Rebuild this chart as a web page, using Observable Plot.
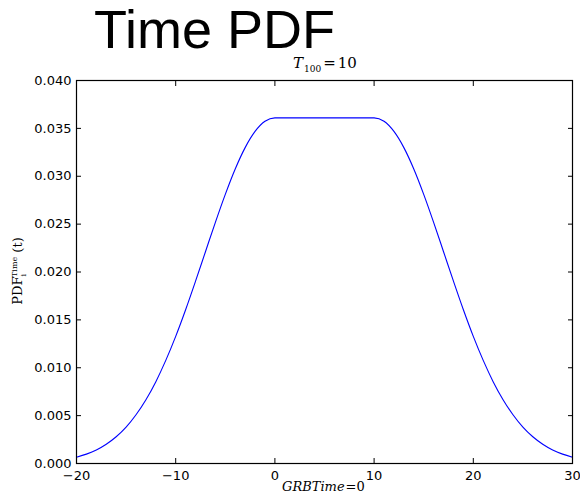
<!DOCTYPE html>
<html>
<head>
<meta charset="utf-8">
<script src="https://cdn.jsdelivr.net/npm/d3@7"></script>
<script src="https://cdn.jsdelivr.net/npm/@observablehq/plot@0.6"></script>
<style>
  html, body { margin: 0; padding: 0; background: #fff; }
  #wrap { position: relative; width: 580px; height: 495px; overflow: hidden; }
  #wrap svg { position: absolute; left: 0; top: 0; }
  .lbl { position: absolute; white-space: nowrap; color: #000; }
  #title { left: 94px; top: 4px; font-family: "Liberation Sans", Arial, sans-serif; font-size: 54px; line-height: 50px; }
  #sub { left: 293px; top: 56px; font-family: "DejaVu Serif", "Liberation Serif", serif; font-size: 15px; line-height: 15px; }
  #xlab { left: 282px; top: 480px; font-family: "DejaVu Serif", "Liberation Serif", serif; font-size: 13px; font-style: italic; line-height: 14px; }
  #ylab { left: 18px; top: 271px; font-family: "DejaVu Serif", "Liberation Serif", serif; font-size: 13px; line-height: 15px;
          transform: translate(-50%, -50%) rotate(-90deg); }
  .dn { position: relative; top: 4px; }
  .up { position: relative; top: -5px; }
</style>
</head>
<body>
<div id="wrap">
  <div id="title" class="lbl">Time PDF</div>
  <div id="sub" class="lbl"><i style="margin-right:1px">T</i><span class="dn" style="font-size:9px">100</span><span style="margin:0 2px">=</span>10</div>
  <div id="ylab" class="lbl">PDF<span class="dn" style="font-size:8px">i</span><span class="up" style="font-size:8px;margin-left:-3px">Time</span> (t)</div>
  <div id="xlab" class="lbl">GRBTime<span style="font-style:normal;margin-left:1px">=0</span></div>
</div>
<script>
const times = d3.range(-20, 31, 1);
const pdfValues = [
  0.00066, 0.00098, 0.00141, 0.00201, 0.00279, 0.00380, 0.00509, 0.00666, 0.00855, 0.01077,
  0.01328, 0.01606, 0.01904, 0.02212, 0.02519, 0.02811, 0.03076, 0.03299, 0.03468, 0.03574,
  0.0361, 0.0361, 0.0361, 0.0361, 0.0361, 0.0361, 0.0361, 0.0361, 0.0361, 0.0361, 0.0361,
  0.03574, 0.03468, 0.03299, 0.03076, 0.02811, 0.02519, 0.02212, 0.01904, 0.01606, 0.01328,
  0.01077, 0.00855, 0.00666, 0.00509, 0.00380, 0.00279, 0.00201, 0.00141, 0.00098, 0.00066
];
const xTicks = [-20, -10, 0, 10, 20, 30];
const yTicks = [0, 0.005, 0.01, 0.015, 0.02, 0.025, 0.03, 0.035, 0.04];

const data = times.map((t, i) => ({t, p: pdfValues[i]}));
const tickFont = {fontFamily: "DejaVu Sans, sans-serif", fontSize: 13};

const chart = Plot.plot({
  width: 580,
  height: 495,
  marginLeft: 76,
  marginRight: 8,
  marginTop: 80,
  marginBottom: 32,
  style: {fontFamily: "DejaVu Sans, sans-serif", fontSize: "13px", color: "#000", background: "transparent"},
  x: {domain: [-20, 30]},
  y: {domain: [0, 0.04]},
  marks: [
    Plot.line(data, {x: "t", y: "p", stroke: "#0000ff", strokeWidth: 1.1, curve: "monotone-x"}),
    Plot.axisX({anchor: "bottom", ticks: xTicks, tickSize: -5, tickPadding: 12, label: null, tickFormat: d3.format("d"), ...tickFont, fill: "#000", stroke: "#000"}),
    Plot.axisX({anchor: "top", ticks: xTicks, tickSize: -5, label: null, tickFormat: () => "", stroke: "#000"}),
    Plot.axisY({anchor: "left", ticks: yTicks, tickSize: -5, tickPadding: 10, label: null, tickFormat: d3.format(".3f"), ...tickFont, fill: "#000", stroke: "#000"}),
    Plot.axisY({anchor: "right", ticks: yTicks, tickSize: -5, label: null, tickFormat: () => "", stroke: "#000"}),
    Plot.frame({stroke: "#000", strokeWidth: 1.2})
  ]
});
document.getElementById("wrap").prepend(chart);
</script>
</body>
</html>
